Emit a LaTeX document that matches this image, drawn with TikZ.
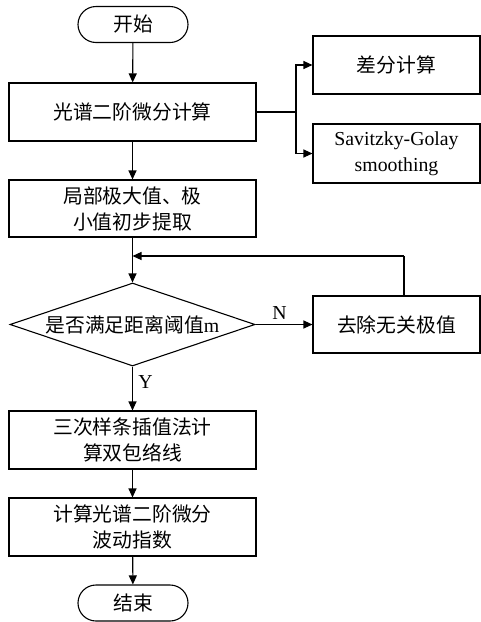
\documentclass[tikz,border=0pt]{standalone}
\usepackage{fontspec}
\setmainfont{Liberation Serif}
\newfontfamily\cjk{Noto Sans CJK SC}
\usetikzlibrary{shapes.geometric,shapes.misc,arrows.meta}
\begin{document}
\begin{tikzpicture}[x=1pt,y=-1pt,
  every node/.style={font=\fontsize{19.8}{26}\selectfont},
  proc/.style={draw,line width=1.1pt,rectangle,inner sep=0pt,align=center},
  term/.style={draw,line width=1.1pt,rounded rectangle,inner sep=0pt,minimum width=110pt,minimum height=36pt},
  dec/.style={draw,line width=1.1pt,diamond,aspect=2.95,inner sep=0pt,minimum width=245pt,minimum height=83pt},
  conn/.style={line width=1.1pt},
  arr/.style={line width=1.1pt,-{Triangle[length=9pt,width=8pt]}},
  lbl/.style={font=\fontsize{19.8}{22}\selectfont}]
\useasboundingbox (0,0) rectangle (481,622);
\node[term] (start) at (133,24.5) {\cjk 开始};
\node[proc,minimum width=247pt,minimum height=58pt] (b1) at (132.5,112) {\cjk 光谱二阶微分计算};
\node[proc,minimum width=167pt,minimum height=58pt] (ra) at (396.5,65) {\cjk 差分计算};
\node[proc,minimum width=167pt,minimum height=59pt] (rb) at (396.5,153.5) {Savitzky-Golay\\smoothing};
\node[proc,minimum width=247pt,minimum height=57pt] (b2) at (132.5,208.5) {\cjk 局部极大值、极\\\cjk 小值初步提取};
\node[dec] (d) at (132.5,324.5) {{\cjk 是否满足距离阈值}m};
\node[proc,minimum width=167pt,minimum height=57pt] (rc) at (396.5,324.5) {\cjk 去除无关极值};
\node[proc,minimum width=247pt,minimum height=58pt] (b4) at (132.5,440) {\cjk 三次样条插值法计\\\cjk 算双包络线};
\node[proc,minimum width=247pt,minimum height=58pt] (b5) at (132.5,527) {\cjk 计算光谱二阶微分\\\cjk 波动指数};
\node[term] (end) at (133,603) {\cjk 结束};
\coordinate (br) at (296,112);
\coordinate (fb) at (132.5,256);
\coordinate (fbr) at (404,256);
\draw[arr] (start) -- (b1);
\draw[conn] (b1.east) -- (br);
\draw[arr] (br) |- (ra.west);
\draw[arr] (br) |- (rb.west);
\draw[arr] (b1) -- (b2);
\draw[arr] (b2) -- (d);
\draw[arr] (d.east) -- node[lbl,above,pos=0.42,yshift=1pt] (nl) {N} (rc.west);
\draw[conn] (rc.north -| fbr) -- (fbr);
\draw[arr] (fbr) -- (fb);
\draw[arr] (d.south) -- node[lbl,right,pos=0.35,xshift=2pt] (yl) {Y} (b4.north);
\draw[arr] (b4) -- (b5);
\draw[arr] (b5) -- (end);
\end{tikzpicture}
\end{document}
